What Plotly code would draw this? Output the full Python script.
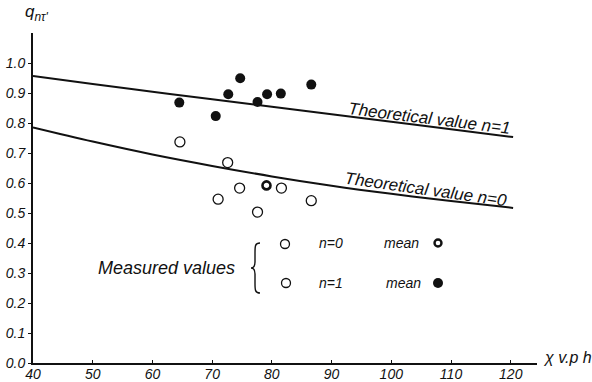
import plotly.graph_objects as go

# Theoretical curves q_nτ' versus χ (v.p.h.)
chi_theory = [40, 50, 60, 70, 80, 90, 100, 110, 120.4]
q_theory_n1 = [0.957, 0.930, 0.904, 0.879, 0.854, 0.829, 0.804, 0.779, 0.753]
q_theory_n0 = [0.785, 0.738, 0.695, 0.657, 0.622, 0.591, 0.564, 0.540, 0.517]

# Measured values, n = 1 (solid dots)
chi_meas_n1 = [64.5, 70.6, 72.7, 74.7, 77.6, 79.2, 81.5, 86.6]
q_meas_n1 = [0.868, 0.823, 0.896, 0.949, 0.870, 0.896, 0.898, 0.928]

# Measured values, n = 0 (open circles)
chi_meas_n0 = [64.6, 72.6, 74.6, 71.0, 77.6, 81.6, 86.6]
q_meas_n0 = [0.737, 0.668, 0.583, 0.546, 0.503, 0.583, 0.541]

# Mean of the n = 0 series (heavy ring)
chi_mean_n0 = [79.1]
q_mean_n0 = [0.592]

x_ticks = [40, 50, 60, 70, 80, 90, 100, 110, 120]
y_ticks = [0.0, 0.1, 0.2, 0.3, 0.4, 0.5, 0.6, 0.7, 0.8, 0.9, 1.0]

W, H = 592, 382
ML, MR, MT, MB = 33, 55, 33, 19
PW, PH = W - ML - MR, H - MT - MB

FONT = "Liberation Sans"
INK = "#111111"


def px(xp):
    return (xp - ML) / PW


def py(yp):
    return (H - MB - yp) / PH


fig = go.Figure()

fig.add_trace(go.Scatter(x=chi_theory, y=q_theory_n1, mode="lines",
                         line=dict(color=INK, width=2, shape="spline"),
                         hoverinfo="skip"))
fig.add_trace(go.Scatter(x=chi_theory, y=q_theory_n0, mode="lines",
                         line=dict(color=INK, width=2, shape="spline"),
                         hoverinfo="skip"))
fig.add_trace(go.Scatter(x=chi_meas_n1, y=q_meas_n1, mode="markers",
                         marker=dict(size=10, color=INK, line=dict(width=0))))
fig.add_trace(go.Scatter(x=chi_meas_n0, y=q_meas_n0, mode="markers",
                         marker=dict(size=10, symbol="circle-open", color=INK,
                                     line=dict(width=1.3))))
fig.add_trace(go.Scatter(x=chi_mean_n0, y=q_mean_n0, mode="markers",
                         marker=dict(size=8, symbol="circle-open", color=INK,
                                     line=dict(width=2.6))))

ann = []


def text(xp, yp, s, size=14, angle=0, xanchor="center"):
    ann.append(dict(x=px(xp), y=py(yp), xref="paper", yref="paper", text=s,
                    showarrow=False, textangle=angle, xanchor=xanchor,
                    yanchor="middle",
                    font=dict(family=FONT, size=size, color=INK, style="italic")))


# curve labels
text(429, 118, "Theoretical value n=1", size=17, angle=7)
text(426, 190, "Theoretical value n=0", size=17, angle=8)

# axis titles
text(37, 13, "q<sub>nτ'</sub>", size=17)
text(541, 357, "χ v.p h", size=16, xanchor="left")

# key for the measured values
text(166, 268, "Measured values", size=18)
text(331, 243, "n=0", size=14)
text(331, 283, "n=1", size=14)
text(401, 243, "mean", size=14)
text(403, 283, "mean", size=14)

shapes = []


def dot(xp, yp, d, filled, lw):
    shapes.append(dict(type="circle", xref="paper", yref="paper",
                       xsizemode="pixel", ysizemode="pixel",
                       xanchor=px(xp), yanchor=py(yp),
                       x0=-d / 2, x1=d / 2, y0=-d / 2, y1=d / 2,
                       line=dict(color=INK, width=lw),
                       fillcolor=INK if filled else "rgba(0,0,0,0)"))


dot(285, 244, 9, False, 1.3)
dot(286, 283, 9, False, 1.3)
dot(438, 243, 7, False, 2.4)
dot(438, 283, 10, True, 0)

# curly brace grouping the key
shapes.append(dict(type="path", xref="paper", yref="paper",
                   xsizemode="pixel", ysizemode="pixel",
                   xanchor=px(255), yanchor=py(268),
                   path="M 5,25 C 0,25 0,22 0,15 L 0,6 C 0,2 -1,0 -4,0 "
                        "C -1,0 0,-2 0,-6 L 0,-15 C 0,-22 0,-25 5,-25",
                   line=dict(color=INK, width=1.4)))

fig.update_layout(
    width=W, height=H,
    margin=dict(l=ML, r=MR, t=MT, b=MB, autoexpand=False),
    paper_bgcolor="white", plot_bgcolor="white",
    showlegend=False,
    annotations=ann, shapes=shapes,
    font=dict(family=FONT, color=INK),
)
fig.update_xaxes(range=[40, 124.4], tickvals=x_ticks,
                 ticktext=[str(v) for v in x_ticks],
                 showgrid=False, zeroline=False, showline=True,
                 linecolor=INK, linewidth=2, ticks="inside", ticklen=3,
                 tickcolor=INK, automargin=False, ticklabelstandoff=-3,
                 tickfont=dict(family=FONT, size=14, color=INK, style="italic"))
fig.update_yaxes(range=[0, 1.1], tickvals=y_ticks,
                 ticktext=[f"{v:.1f}" for v in y_ticks],
                 showgrid=False, zeroline=False, showline=True,
                 linecolor=INK, linewidth=2, ticks="outside", ticklen=3,
                 tickcolor=INK, automargin=False,
                 tickfont=dict(family=FONT, size=14, color=INK, style="italic"))

fig.write_html("out.html")
